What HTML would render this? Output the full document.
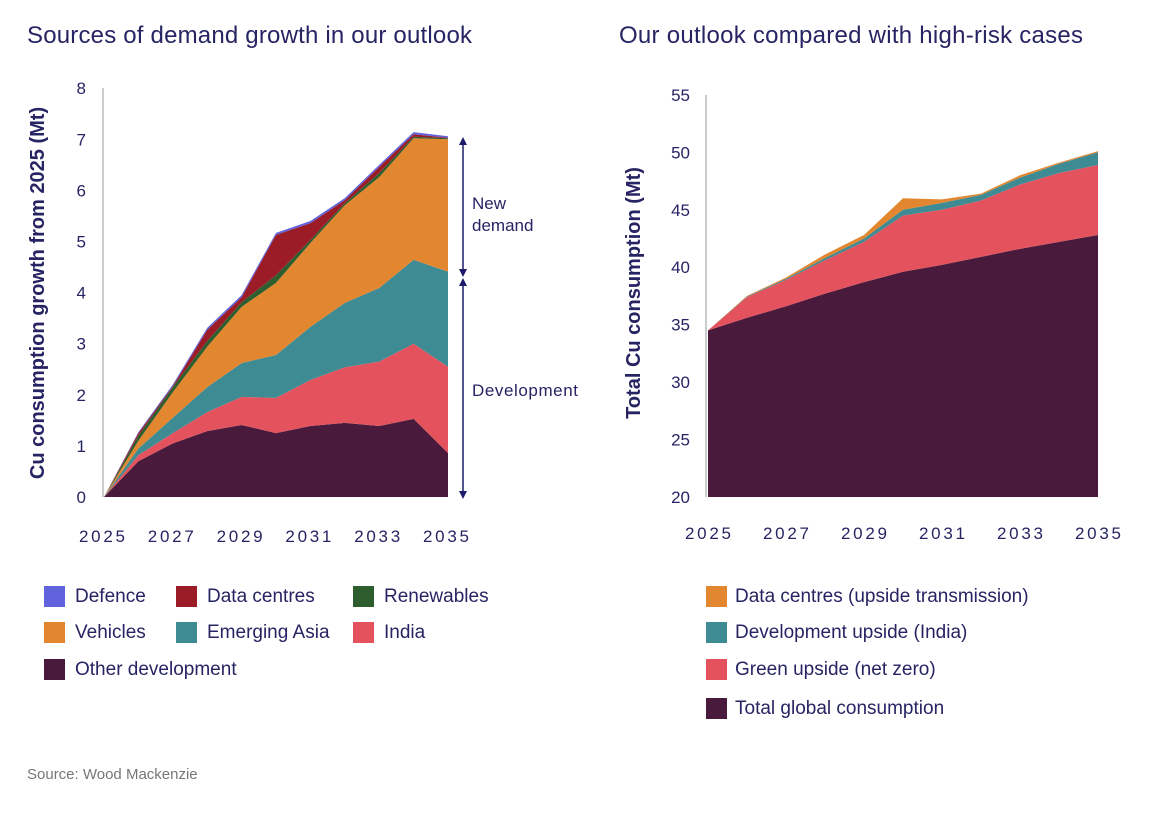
<!DOCTYPE html>
<html><head><meta charset="utf-8">
<style>
body{margin:0;background:#fff;width:1166px;height:812px;overflow:hidden;font-family:"Liberation Sans",sans-serif;}
svg text{font-family:"Liberation Sans",sans-serif;fill:#262463;}
</style></head><body>
<svg id="chart" width="1166" height="812" xmlns="http://www.w3.org/2000/svg">
<text x="27" y="43" font-size="24" textLength="445">Sources of demand growth in our outlook</text>
<text x="619" y="43" font-size="24" textLength="464">Our outlook compared with high-risk cases</text>
<text transform="translate(44,293) rotate(-90)" text-anchor="middle" font-size="20" font-weight="bold">Cu consumption growth from 2025 (Mt)</text>
<text transform="translate(640,293) rotate(-90)" text-anchor="middle" font-size="20" font-weight="bold">Total Cu consumption (Mt)</text>
<g id="left"></g><g id="right"></g>
<g stroke="#1c1c6a" stroke-width="1.5" fill="#1c1c6a">
<line x1="463" y1="143" x2="463" y2="271"/><path d="M459,145 L463,137 L467,145Z" stroke="none"/><path d="M459,269 L463,277 L467,269Z" stroke="none"/>
<line x1="463" y1="284" x2="463" y2="493"/><path d="M459,286 L463,278 L467,286Z" stroke="none"/><path d="M459,491 L463,499 L467,491Z" stroke="none"/>
</g>
<text x="472" y="209" font-size="17">New</text>
<text x="472" y="231" font-size="17">demand</text>
<text x="472" y="396" font-size="17" textLength="106">Development</text>
<g id="legend"></g>
<text x="27" y="779" font-size="15" style="fill:#777">Source: Wood Mackenzie</text>
</svg>
<script>
const years=[2025,2026,2027,2028,2029,2030,2031,2032,2033,2034,2035];
const leftTicksY=[0,1,2,3,4,5,6,7,8];
const leftTicksX=[2025,2027,2029,2031,2033,2035];
const otherDev=[0,0.7,1.05,1.29,1.41,1.25,1.39,1.45,1.39,1.53,0.86];
const india=[0,0.12,0.2,0.37,0.55,0.69,0.9,1.09,1.26,1.47,1.69];
const emergingAsia=[0,0.13,0.3,0.49,0.66,0.84,1.04,1.26,1.44,1.64,1.86];
const vehicles=[0,0.15,0.5,0.79,1.1,1.41,1.64,1.91,2.17,2.38,2.59];
const renewables=[0,0.1,0.1,0.11,0.09,0.15,0.06,0.04,0.08,0.03,0.02];
const dataCentres=[0,0.05,0.02,0.22,0.1,0.79,0.33,0.06,0.12,0.05,0.01];
const defence=[0,0.02,0.03,0.04,0.04,0.04,0.04,0.04,0.04,0.04,0.03];
const rightTicksY=[20,25,30,35,40,45,50,55];
const totalGlobal=[34.5,35.6,36.6,37.7,38.7,39.6,40.2,40.9,41.6,42.2,42.8];
const greenUpside=[0,1.8,2.3,2.9,3.5,4.9,4.8,4.9,5.6,6.0,6.1];
const devUpside=[0,0.05,0.1,0.2,0.3,0.5,0.6,0.5,0.6,0.8,1.1];
const dcUpside=[0,0.05,0.1,0.3,0.3,1.0,0.3,0.1,0.2,0.1,0.1];
const NS='http://www.w3.org/2000/svg';
function mk(t,a,p){const e=document.createElementNS(NS,t);for(const k in a)e.setAttribute(k,a[k]);p.appendChild(e);return e;}
const lx=y=>104+(y-2025)*34.4, ly=v=>497-v*51.1;
const rx=y=>708+(y-2025)*39, ry=v=>497-(v-20)*11.49;
function stack(g,series,xf,yf,base,names){
  let lower=years.map(()=>base);
  series.forEach((s,i)=>{
    const upper=lower.map((l,j)=>l+s.v[j]);
    let d='M'+years.map((y,j)=>xf(y)+','+yf(upper[j])).join(' L');
    for(let j=years.length-1;j>=0;j--)d+=' L'+xf(years[j])+','+yf(lower[j]);
    const p=mk('path',{d:d+'Z',fill:s.c},g);
    
    
    lower=upper;
  });
}
const L=document.getElementById('left'), R=document.getElementById('right');
const C={def:'#6063dc',dc:'#9b1c26',ren:'#2e5e2e',veh:'#e38630',ea:'#3f8b93',ind:'#e4535d',oth:'#4a1a3c'};
const left=[{v:otherDev,c:C.oth},{v:india,c:C.ind},{v:emergingAsia,c:C.ea},{v:vehicles,c:C.veh},{v:renewables,c:C.ren},{v:dataCentres,c:C.dc},{v:defence,c:C.def}];
stack(L,left,lx,ly,0,['area-other-development','area-india','area-emerging-asia','area-vehicles','area-renewables','area-data-centres','area-defence']);
const right=[{v:totalGlobal.map(v=>v-20),c:C.oth},{v:greenUpside,c:C.ind},{v:devUpside,c:C.ea},{v:dcUpside,c:C.veh}];
stack(R,right,rx,ry,20,['area-total-global','area-green-upside','area-development-upside','area-data-centres-upside']);
let a=mk('line',{x1:103,y1:88,x2:103,y2:497,stroke:'#bbb','stroke-width':1.5},L);

a=mk('line',{x1:706,y1:95,x2:706,y2:497,stroke:'#bbb','stroke-width':1.5},R);

leftTicksY.forEach(v=>{const t=mk('text',{x:86,y:ly(v)+6,'font-size':17,'text-anchor':'end'},L);t.textContent=v;
});
leftTicksX.forEach(v=>{const t=mk('text',{x:lx(v)-2,y:542,'font-size':17,'text-anchor':'middle','textLength':46},L);t.textContent=v;
});
rightTicksY.forEach(v=>{const t=mk('text',{x:690,y:ry(v)+6,'font-size':17,'text-anchor':'end'},R);t.textContent=v;
});
leftTicksX.forEach(v=>{const t=mk('text',{x:rx(v),y:539,'font-size':17,'text-anchor':'middle','textLength':46},R);t.textContent=v;
});
const G=document.getElementById('legend');
const leg=[[44,596,C.def,'Defence'],[176,596,C.dc,'Data centres'],[353,596,C.ren,'Renewables'],
[44,632,C.veh,'Vehicles'],[176,632,C.ea,'Emerging Asia'],[353,632,C.ind,'India'],[44,669,C.oth,'Other development'],
[706,596,C.veh,'Data centres (upside transmission)'],[706,632,C.ea,'Development upside (India)'],[706,669,C.ind,'Green upside (net zero)'],[706,708,C.oth,'Total global consumption']];
leg.forEach(l=>{const g=mk('g',{},G);

mk('rect',{x:l[0],y:l[1]-10,width:21,height:21,fill:l[2]},g);
const t=mk('text',{x:l[0]+(l[0]>600?29:31),y:l[1]+6,'font-size':19},g);t.textContent=l[3];});
</script>
</body></html>
